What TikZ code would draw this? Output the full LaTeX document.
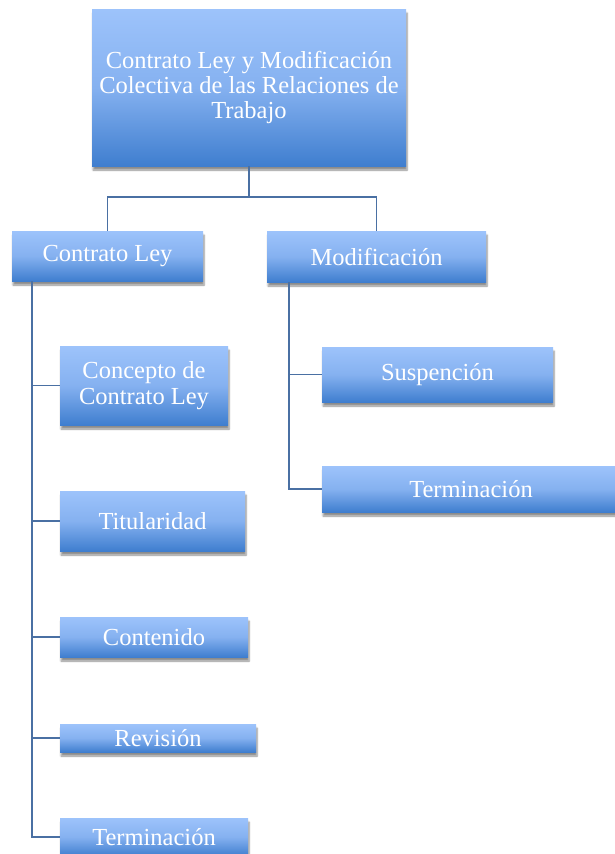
\documentclass[tikz,border=0pt]{standalone}
\usepackage{fontspec}
\setmainfont{Liberation Serif}
\usetikzlibrary{shadows.blur}
\definecolor{boxtop}{HTML}{9DC3FB}
\definecolor{boxmid}{HTML}{85B1F0}
\definecolor{boxbot}{HTML}{3F7ECF}
\definecolor{linec}{HTML}{4A70A3}
\tikzset{
  box/.style={rectangle, inner sep=0pt, align=center, text=white,
    top color=boxtop, bottom color=boxbot, middle color=boxmid,
    font=\fontsize{24.5}{25.3}\selectfont,
    blur shadow={shadow xshift=1pt, shadow yshift=-4pt, shadow blur steps=6, shadow opacity=45}},
  conn/.style={draw=linec, line width=1.7pt}
}
\begin{document}
\begin{tikzpicture}[x=1pt,y=-1pt]
\useasboundingbox (0,0) rectangle (614,854);
\node[box, minimum width=314pt, minimum height=157pt] (top) at (249,87.5)
  {Contrato Ley y Modificación\\Colectiva de las Relaciones de\\Trabajo};
\node[box, minimum width=191pt, minimum height=50pt] (cl) at (107.5,256) {Contrato Ley};
\node[box, minimum width=219pt, minimum height=51pt] (mod) at (376.5,256.5) {Modificación};
\node[box, minimum width=168pt, minimum height=79pt] (conc) at (144,385.5) {Concepto de\\Contrato Ley};
\node[box, minimum width=185pt, minimum height=60pt] (tit) at (152.5,521) {Titularidad};
\node[box, minimum width=188pt, minimum height=40pt] (cont) at (154,637) {Contenido};
\node[box, minimum width=196pt, minimum height=28pt] (rev) at (158,738) {Revisión};
\node[box, minimum width=188pt, minimum height=38pt] (term1) at (154,837) {Terminación};
\node[box, minimum width=231pt, minimum height=55pt] (susp) at (437.5,374.5) {Suspención};
\node[box, minimum width=298pt, minimum height=46pt] (term2) at (471,489) {Terminación};
\coordinate (bus) at (249,197);
\coordinate (lspine) at (32,281);
\coordinate (rspine) at (289,282);
\draw[conn] (top.south) -- (bus);
\draw[conn] (cl.north) |- (bus) -| (mod.north);
\draw[conn] (lspine) |- (term1.west);
\draw[conn] (lspine) |- (conc.west);
\draw[conn] (lspine) |- (tit.west);
\draw[conn] (lspine) |- (cont.west);
\draw[conn] (lspine) |- (rev.west);
\draw[conn] (rspine) |- (term2.west);
\draw[conn] (rspine) |- (susp.west);
\end{tikzpicture}
\end{document}
